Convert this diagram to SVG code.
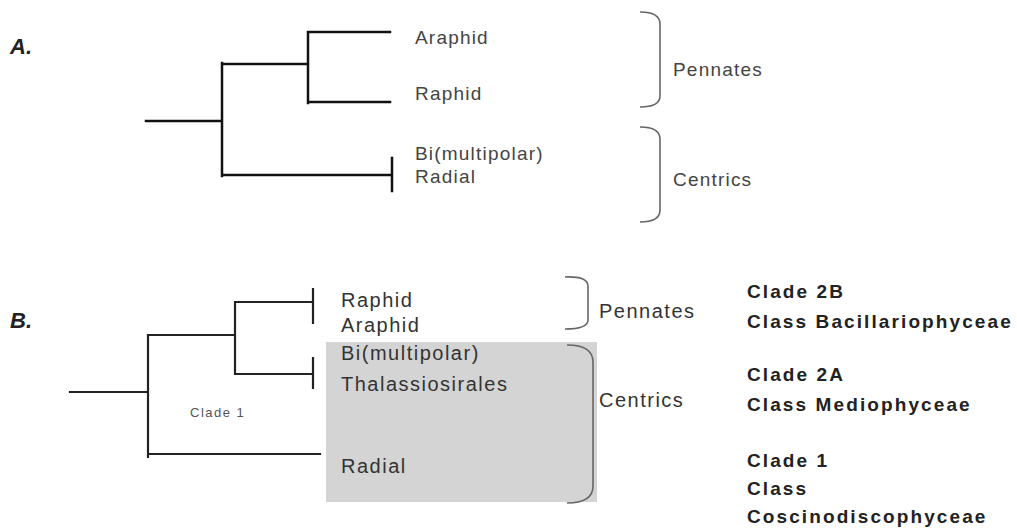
<svg xmlns="http://www.w3.org/2000/svg" width="1017" height="528" viewBox="0 0 1017 528">
<style>
.br{fill:none;stroke:#111;stroke-width:2.5;stroke-linecap:square}
.brB{fill:none;stroke:#222;stroke-width:2.2;stroke-linecap:square}
.brace{fill:none;stroke:#666;stroke-width:1.6}
.tA{font-family:"Liberation Sans",Arial,sans-serif;font-size:19px;letter-spacing:1.2px;fill:#444}
.tB{font-family:"Liberation Sans",Arial,sans-serif;font-size:20px;letter-spacing:1.5px;fill:#333}
.lab{font-family:"Liberation Sans",Arial,sans-serif;font-size:22px;font-weight:bold;font-style:italic;fill:#222}
.cls{font-family:"Liberation Sans",Arial,sans-serif;font-size:19px;font-weight:bold;letter-spacing:2.1px;fill:#222}
.small{font-family:"Liberation Sans",Arial,sans-serif;font-size:13px;letter-spacing:1.5px;fill:#555}
</style>
<rect width="1017" height="528" fill="#fff"/>
<text class="lab" x="10" y="54">A.</text>
<text class="lab" x="10" y="328">B.</text>
<rect id="centrics-box" x="326" y="342" width="271" height="160" fill="#d4d4d4"/>
<g id="connectors">
  <path class="br" d="M146,121 H222 M222,63 V176 M222,64 H308 M308,32 V103 M308,32 H390 M308,102 H390 M222,175 H392 M392,158 V191"/>
  <path class="brB" d="M70,392 H148 M148,335 V457 M148,335 H235 M235,302 V374 M235,302 H313 M313,289 V323 M235,374 H313 M313,358 V388 M148,454 H320"/>
</g>
<g id="braces">
  <path class="brace" d="M640,12 Q660,12 660,24 V96 Q660,107 640,107"/>
  <path class="brace" d="M640,127 Q660,127 660,139 V210 Q660,222 640,222"/>
  <path class="brace" d="M565,277 Q588,276 588,286 V320 Q588,329 565,329"/>
  <path class="brace" d="M567,345 Q593,345 593,362 V486 Q593,503 567,503"/>
</g>
<g id="node-a-araphid"><text class="tA" x="415" y="44">Araphid</text></g>
<g id="node-a-raphid"><text class="tA" x="415" y="100">Raphid</text></g>
<g id="node-a-bi"><text class="tA" x="415" y="160">Bi(multipolar)</text></g>
<g id="node-a-radial"><text class="tA" x="415" y="183">Radial</text></g>
<g id="node-a-pennates"><text class="tA" x="673" y="76">Pennates</text></g>
<g id="node-a-centrics"><text class="tA" x="673" y="186">Centrics</text></g>
<g id="node-b-raphid"><text class="tB" x="341" y="307">Raphid</text></g>
<g id="node-b-araphid"><text class="tB" x="341" y="332">Araphid</text></g>
<g id="node-b-bi"><text class="tB" x="341" y="360">Bi(multipolar)</text></g>
<g id="node-b-thal"><text class="tB" x="341" y="391">Thalassiosirales</text></g>
<g id="node-b-radial"><text class="tB" x="341" y="473">Radial</text></g>
<g id="node-b-clade1"><text class="small" x="190" y="417">Clade 1</text></g>
<g id="node-b-pennates"><text class="tB" x="599" y="318">Pennates</text></g>
<g id="node-b-centrics"><text class="tB" x="599" y="407">Centrics</text></g>
<g id="node-classes">
  <text class="cls" x="747" y="298">Clade 2B</text>
  <text class="cls" x="747" y="328">Class Bacillariophyceae</text>
  <text class="cls" x="747" y="381">Clade 2A</text>
  <text class="cls" x="747" y="411">Class Mediophyceae</text>
  <text class="cls" x="747" y="467">Clade 1</text>
  <text class="cls" x="747" y="495">Class</text>
  <text class="cls" x="747" y="523">Coscinodiscophyceae</text>
</g>
</svg>
